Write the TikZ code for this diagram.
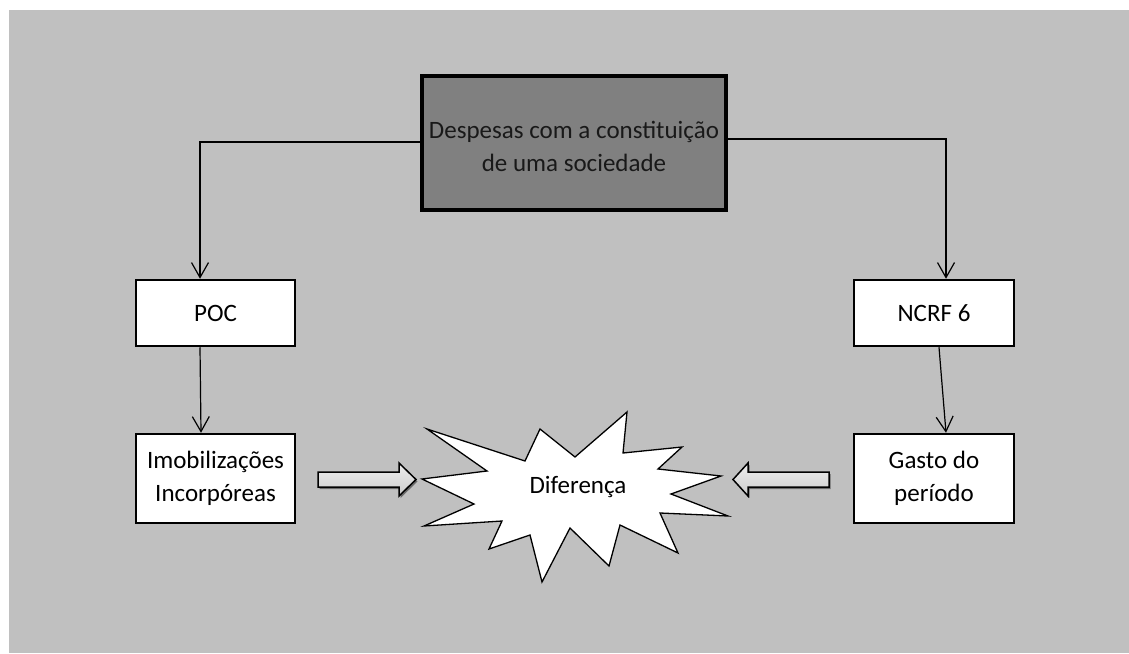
\documentclass[tikz,border=0pt]{standalone}
\usepackage{fontspec}
\setmainfont{Carlito}
\usetikzlibrary{arrows.meta,shadows}
\definecolor{pagegray}{HTML}{C0C0C0}
\definecolor{headgray}{HTML}{808080}
\definecolor{arrowtop}{HTML}{EDEDED}
\definecolor{arrowbot}{HTML}{CCCCCC}
\begin{document}
\begin{tikzpicture}[x=1pt,y=-1pt,
  txt/.style={font=\fontsize{25}{33}\selectfont, align=center},
  box/.style={txt, draw=black, line width=2.5pt, fill=white, inner sep=0pt},
  headbox/.style={txt, draw=black, line width=4pt, fill=headgray, inner sep=0pt, text=black!90},
  link/.style={draw=black, line width=1.2pt,
    -{Straight Barb[length=15pt,width=17pt,line width=1.2pt]}},
  fatarrow/.style={draw=black, line width=1.5pt, line join=miter,
    top color=arrowtop, bottom color=arrowbot,
    drop shadow={shadow xshift=1.5pt, shadow yshift=-2pt, opacity=0.45, fill=black}},
  burst/.style={draw=black, line width=1.3pt, fill=white, line join=miter}
]
% page and bounding box
\useasboundingbox (0,0) rectangle (1129,653);
\fill[pagegray] (9,10) rectangle (1129,653);

% boxes
\node[headbox, minimum width=304pt, minimum height=134pt] (top) at (574,143) {};
\node[txt, text=black!90] (toptext) at (574,146)
  {Despesas com a constituição\\de uma sociedade};
\node[box, minimum width=159pt, minimum height=66pt] (poc) at (215.5,313) {POC};
\node[box, minimum width=160pt, minimum height=66pt] (ncrf) at (934,313) {NCRF 6};
\node[box, minimum width=159pt, minimum height=89pt] (imob) at (215.5,478.5)
  {Imobilizações\\Incorpóreas};
\node[box, minimum width=160pt, minimum height=89pt] (gasto) at (934,478.5)
  {Gasto do\\período};

% connectors
\draw[link] ([yshift=1pt]top.west) -| ([xshift=-15.5pt]poc.north);
\draw[link] ([yshift=4pt]top.east) -| ([xshift=12pt]ncrf.north);
\draw[link] ([xshift=-15.5pt]poc.south) -- ([xshift=-14.5pt]imob.north);
\draw[link] ([xshift=5pt]ncrf.south) -- ([xshift=12pt]gasto.north);

% explosion shape
\draw[burst] (427,429) -- (525,461) -- (540,429) -- (575,457) -- (627,412)
  -- (623,453) -- (682,447) -- (658,469) -- (721,476) -- (671,494)
  -- (728,516) -- (660,513) -- (678,553) -- (620,525) -- (609,566)
  -- (570,528) -- (542,582) -- (530,535) -- (489,549) -- (502,521)
  -- (424,526) -- (474,504) -- (422,479) -- (487,471) -- cycle;
\node[txt] (dif) at (578,487) {Diferença};

% block arrows pointing at the explosion
\path[fatarrow] (318,472) -- (399,472) -- (399,463) -- (416,479.5)
  -- (399,496) -- (399,487) -- (318,487) -- cycle;
\path[fatarrow] (829,472) -- (748,472) -- (748,463) -- (733,479.5)
  -- (748,496) -- (748,487) -- (829,487) -- cycle;
\end{tikzpicture}
\end{document}
